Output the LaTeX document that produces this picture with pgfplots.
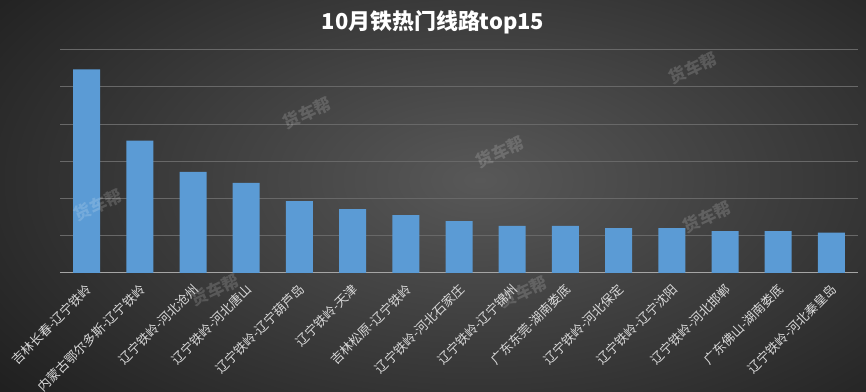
\documentclass[border=0pt]{standalone}
\usepackage{fontspec}
\setmainfont{Noto Sans CJK SC}
\usepackage{pgfplots}
\pgfplotsset{compat=1.18}
\definecolor{barblue}{RGB}{91,155,213}
\definecolor{bgin}{RGB}{88,88,88}
\definecolor{bgout}{RGB}{24,24,24}
\definecolor{gridc}{RGB}{104,104,104}
\definecolor{basec}{RGB}{165,165,165}
\definecolor{labc}{RGB}{217,217,217}
\begin{document}
\begin{tikzpicture}
\useasboundingbox (0bp,0bp) rectangle (866bp,392bp);
\begin{scope}
\clip (0bp,0bp) rectangle (866bp,392bp);
\shade[inner color=bgin, outer color=bgout] (-220bp,-168bp) rectangle (1180bp,592bp);
\end{scope}
\begin{axis}[
  at={(60bp,119.2bp)}, anchor=south west,
  scale only axis, width=798bp, height=223.2bp,
  xmin=-0.5, xmax=14.5, ymin=0, ymax=6,
  enlargelimits=false,
  axis line style={draw=none},
  major tick length=0pt,
  ytick={1,2,3,4,5,6}, yticklabels={},
  ymajorgrids,
  grid style={draw=gridc, line width=0.8bp},
  extra y ticks={0}, extra y tick labels={},
  extra y tick style={grid style={draw=basec, line width=1.3bp}},
  xtick=data,
  xticklabels={吉林长春-辽宁铁岭,内蒙古鄂尔多斯-辽宁铁岭,辽宁铁岭-河北沧州,辽宁铁岭-河北唐山,辽宁铁岭-辽宁葫芦岛,辽宁铁岭-天津,吉林松原-辽宁铁岭,辽宁铁岭-河北石家庄,辽宁铁岭-辽宁锦州,广东东莞-湖南娄底,辽宁铁岭-河北保定,辽宁铁岭-辽宁沈阳,辽宁铁岭-河北邯郸,广东佛山-湖南娄底,辽宁铁岭-河北秦皇岛},
  xticklabel style={xshift=3bp, yshift=-14bp, rotate=45, anchor=east, text=labc, font=\fontsize{12.8}{14}\selectfont, inner sep=0pt},
]
\addplot[ybar, bar width=27bp, fill=barblue, draw=none] coordinates {
(0,5.47) (1,3.55) (2,2.71) (3,2.42) (4,1.93) (5,1.71) (6,1.55) (7,1.39)
(8,1.26) (9,1.26) (10,1.20) (11,1.20) (12,1.12) (13,1.12) (14,1.08)
};
\end{axis}
\node[text=white, font=\bfseries\fontsize{22}{26}\selectfont] at (433bp,370bp) {10月铁热门线路top15};
\foreach \px/\py in {307/113, 500/152, 693/68, 707/217, 98/205, 215/290, 523/292} {
  \node[text=white, opacity=0.16, rotate=25, font=\bfseries\fontsize{17}{20}\selectfont] at (\px bp, 392bp-\py bp) {货车帮};
}
\end{tikzpicture}
\end{document}
